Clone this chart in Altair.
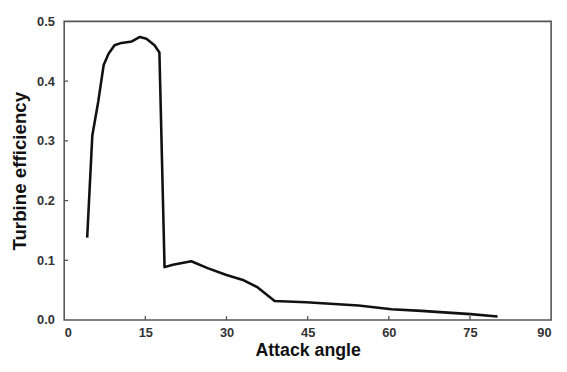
import altair as alt
import pandas as pd

# Curve
attack_angle = [4.25, 5.2, 6.3, 7.3, 8.2, 9.3, 10.6, 12.5, 14.0, 15.2, 16.7, 17.6,
                18.55, 20.1, 23.5, 26.5, 30.0, 33.2, 35.6, 38.9, 44.7, 54.4,
                60.5, 66.0, 75.1, 80.1]
efficiency = [0.138, 0.309, 0.366, 0.427, 0.446, 0.460, 0.464, 0.4665, 0.474, 0.471,
              0.460, 0.448, 0.0886, 0.0924, 0.0985, 0.087, 0.0755, 0.0665, 0.0556,
              0.0319, 0.0297, 0.0243, 0.0182, 0.0154, 0.0099, 0.0061]

x_ticks = [0, 15, 30, 45, 60, 75, 90]
y_ticks = [0.0, 0.1, 0.2, 0.3, 0.4, 0.5]
x_inner_ticks = [15, 30, 45, 60, 75]
y_inner_ticks = [0.1, 0.2, 0.3, 0.4]

W, H = 494, 303

df = pd.DataFrame({"angle": attack_angle, "eff": efficiency})
xt = pd.DataFrame({"t": x_inner_ticks})
yt = pd.DataFrame({"t": y_inner_ticks})

xscale = alt.Scale(domain=[0, 90], nice=False, zero=False)
yscale = alt.Scale(domain=[0, 0.5], nice=False)

label_font = "Liberation Sans"

line = alt.Chart(df).mark_line(color="#111111", strokeWidth=2.6, strokeJoin="round").encode(
    x=alt.X("angle:Q", scale=xscale,
            axis=alt.Axis(title="Attack angle", values=x_ticks, format="d", grid=False,
                          ticks=False, domain=False, labelPadding=7,
                          labelFont=label_font, labelFontSize=13, labelFontWeight="bold",
                          labelColor="#333333", titleFont=label_font, titleFontSize=18,
                          titleFontWeight="bold", titleColor="#111111",
                          titleBaseline="middle", titleY=31)),
    y=alt.Y("eff:Q", scale=yscale,
            axis=alt.Axis(title="Turbine efficiency", values=y_ticks, format=".1f", grid=False,
                          ticks=False, domain=False, labelPadding=10,
                          labelFont=label_font, labelFontSize=13, labelFontWeight="bold",
                          labelColor="#333333", titleFont=label_font, titleFontSize=19,
                          titleFontWeight="bold", titleColor="#111111",
                          titleBaseline="middle", titleX=-45, titleY=H / 2)),
)

xtick_layer = alt.Chart(xt).mark_rule(color="#555555", strokeWidth=1.3).encode(
    x=alt.X("t:Q", scale=xscale),
    y=alt.value(H),
    y2=alt.value(H - 4),
)

ytick_layer = alt.Chart(yt).mark_rule(color="#555555", strokeWidth=1.3).encode(
    y=alt.Y("t:Q", scale=yscale),
    x=alt.value(0),
    x2=alt.value(4),
)

chart = alt.layer(line, xtick_layer, ytick_layer).properties(
    width=W, height=H,
    autosize=alt.AutoSizeParams(type="none"),
    padding={"left": 57, "top": 11, "right": 8, "bottom": 42},
    background="white",
).configure_view(stroke="#555555", strokeWidth=1.6)

chart.save("out.html", embed_options={"renderer": "svg", "actions": False})
